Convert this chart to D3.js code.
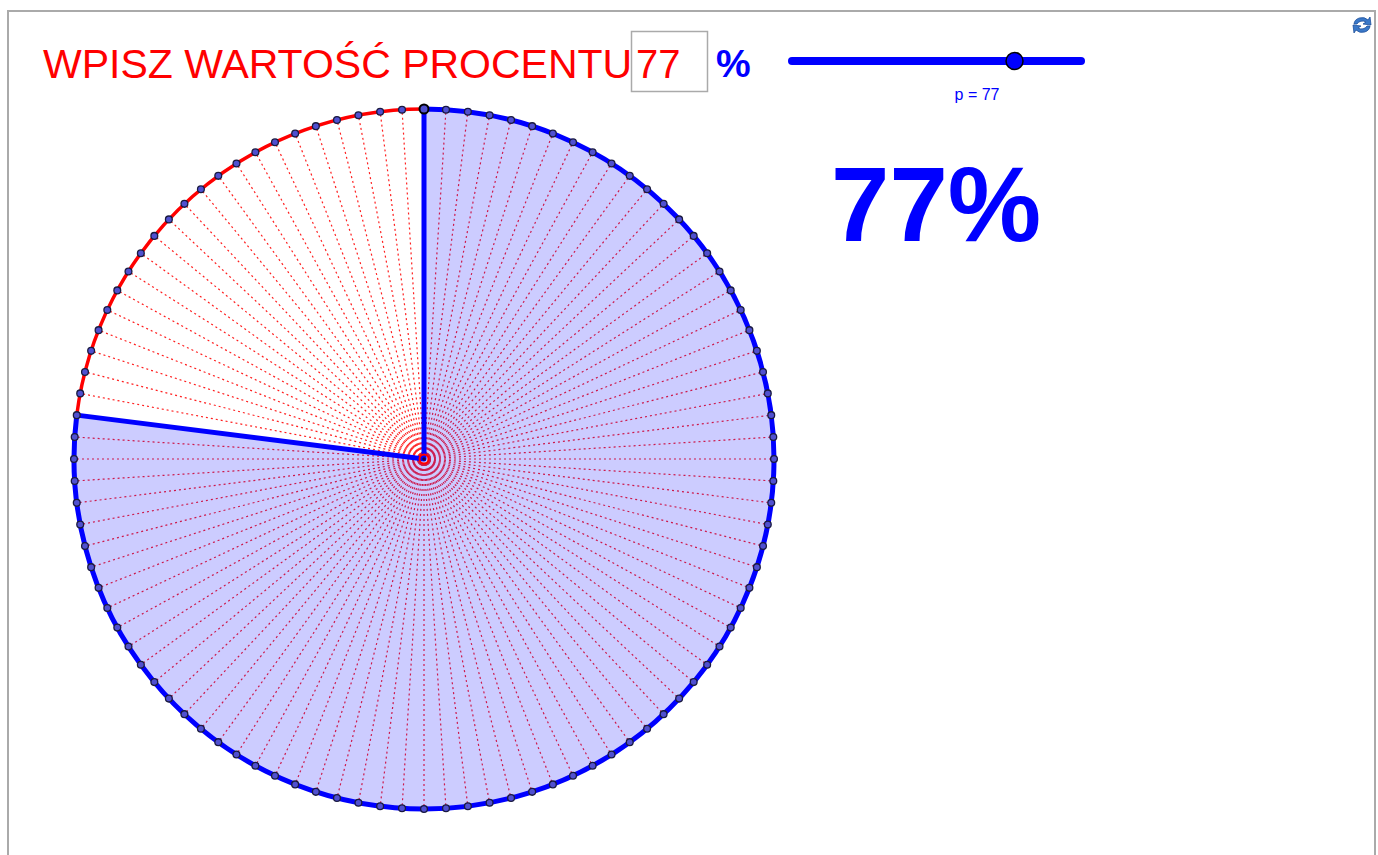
<!DOCTYPE html>
<meta charset="utf-8">
<style>
  body { margin: 0; background: #fff; }
  text { font-family: "Liberation Sans", Arial, sans-serif; }
</style>
<svg width="1378" height="855"></svg>
<script src="https://d3js.org/d3.v7.min.js"></script>
<script>

// chart values
var percentValue = [77];
var segmentCount = [100];
var titleText = ["WPISZ WARTOŚĆ PROCENTU"];
var sliderDomain = [0, 100];

var svg = d3.select("svg"),
    width = +svg.attr("width"),
    height = +svg.attr("height");

var p = percentValue[0],
    n = segmentCount[0];

// frame
svg.append("path")
    .attr("d", "M8,870 V11 H1375 V870")
    .attr("fill", "none")
    .attr("stroke", "#aaa")
    .attr("stroke-width", 2);

// pie geometry
var cx = 424, cy = 459, r = 350;
var angle = d3.scaleLinear().domain([0, n]).range([0, 2 * Math.PI]);
var ticks = d3.range(n);

var g = svg.append("g").attr("transform", "translate(" + cx + "," + cy + ")");

// dotted radii to each division
g.append("g")
  .selectAll("line")
  .data(ticks)
  .enter()
  .append("line")
    .attr("x1", 0).attr("y1", 0)
    .attr("x2", function(d) { return r * Math.sin(angle(d)); })
    .attr("y2", function(d) { return -r * Math.cos(angle(d)); })
    .attr("stroke", "#ff2020")
    .attr("stroke-width", 1.2)
    .attr("stroke-dasharray", "2,3");

// filled sector
var sector = d3.arc().innerRadius(0).outerRadius(r)
    .startAngle(0).endAngle(angle(p * n / 100));
g.append("path")
    .attr("d", sector())
    .attr("fill", "rgba(0,0,255,0.2)")
    .attr("stroke", "none");

// remaining arc in red
var restArc = d3.arc().innerRadius(r).outerRadius(r)
    .startAngle(angle(p * n / 100)).endAngle(2 * Math.PI);
g.append("path")
    .attr("d", restArc())
    .attr("fill", "none")
    .attr("stroke", "#ff0000")
    .attr("stroke-width", 3.5);

// outline of the sector
g.append("path")
    .attr("d", sector())
    .attr("fill", "none")
    .attr("stroke", "#0000ff")
    .attr("stroke-width", 5)
    .attr("stroke-linejoin", "round");

// center mark
g.append("circle").attr("r", 4.5).attr("fill", "none").attr("stroke", "#ff0000").attr("stroke-width", 2);
g.append("circle").attr("r", 1.8).attr("fill", "#200040");

// division points
g.append("g")
  .selectAll("circle")
  .data(ticks)
  .enter()
  .append("circle")
    .attr("cx", function(d) { return r * Math.sin(angle(d)); })
    .attr("cy", function(d) { return -r * Math.cos(angle(d)); })
    .attr("r", function(d) { return d === 0 ? 4.5 : 3.4; })
    .attr("fill", "#5050d0")
    .attr("stroke", function(d) { return d === 0 ? "#000" : "#1a1a40"; })
    .attr("stroke-width", function(d) { return d === 0 ? 2 : 1.3; });

// title and input box
svg.append("text")
    .attr("x", 43).attr("y", 78)
    .attr("font-size", 41)
    .attr("fill", "#ff0000")
    .text(titleText[0]);

svg.append("rect")
    .attr("x", 631.5).attr("y", 31.5)
    .attr("width", 76).attr("height", 60)
    .attr("fill", "#fff")
    .attr("stroke", "#aaa")
    .attr("stroke-width", 1.5);

svg.append("text")
    .attr("x", 636).attr("y", 78)
    .attr("font-size", 40)
    .attr("fill", "#ff0000")
    .text(p);

svg.append("text")
    .attr("x", 716).attr("y", 77)
    .attr("font-size", 39)
    .attr("font-weight", "bold")
    .attr("fill", "#0000ff")
    .text("%");

// slider
var slider = d3.scaleLinear().domain(sliderDomain).range([792, 1081]);
svg.append("line")
    .attr("x1", slider(sliderDomain[0])).attr("x2", slider(sliderDomain[1]))
    .attr("y1", 61).attr("y2", 61)
    .attr("stroke", "#0000ff")
    .attr("stroke-width", 8)
    .attr("stroke-linecap", "round");
svg.append("circle")
    .attr("cx", slider(p)).attr("cy", 61)
    .attr("r", 8.5)
    .attr("fill", "#0000ff")
    .attr("stroke", "#000")
    .attr("stroke-width", 1.5);
svg.append("text")
    .attr("x", 977).attr("y", 100)
    .attr("text-anchor", "middle")
    .attr("font-size", 16)
    .attr("fill", "#0000ff")
    .text("p = " + p);

// big percent label
svg.append("text")
    .attr("x", 831).attr("y", 241)
    .attr("font-size", 105)
    .attr("font-weight", "bold")
    .attr("fill", "#0000ff")
    .text(p + "%");

// refresh icon
var icon = svg.append("g").attr("transform", "translate(1362,25)");
icon.append("path")
    .attr("d", "M-8,-1 A8,7 0 0 1 6,-5 L8,-8 L9,0 L1,-1 L4,-3 A6,5 0 0 0 -5,-1 Z")
    .attr("fill", "#3a78c8").attr("stroke", "#1d4f9a").attr("stroke-width", 0.8);
icon.append("path")
    .attr("d", "M8,1 A8,7 0 0 1 -6,5 L-8,8 L-9,0 L-1,1 L-4,3 A6,5 0 0 0 5,1 Z")
    .attr("fill", "#3a78c8").attr("stroke", "#1d4f9a").attr("stroke-width", 0.8);

</script>
